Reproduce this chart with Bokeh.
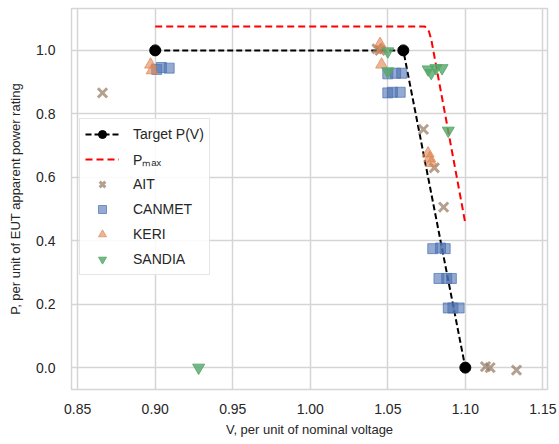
from bokeh.plotting import figure
from bokeh.models import Range1d, FixedTicker, Legend, LegendItem
from bokeh.embed import file_html
from bokeh.resources import INLINE

# Target curve and Pmax curve
target_v = [0.90, 1.06, 1.10]
target_p = [1.0, 1.0, 0.0]
pmax_v = [0.90, 1.074, 1.0765, 1.078, 1.10]
pmax_p = [1.075, 1.075, 1.06, 1.035, 0.455]

# Measured data
ait_v = [0.866, 1.043, 1.045, 1.073, 1.080, 1.086, 1.113, 1.116, 1.133]
ait_p = [0.866, 1.005, 1.000, 0.751, 0.630, 0.506, 0.003, 0.000, -0.008]

canmet_v = [0.901, 0.904, 0.909, 1.050, 1.055, 1.059, 1.050, 1.053, 1.058,
            1.079, 1.084, 1.087, 1.083, 1.088, 1.091, 1.089, 1.092, 1.096]
canmet_p = [0.940, 0.946, 0.944, 0.926, 0.928, 0.928, 0.866, 0.868, 0.868,
            0.375, 0.377, 0.375, 0.281, 0.281, 0.281, 0.188, 0.188, 0.188]

keri_v = [0.897, 0.898, 1.045, 1.046, 1.046, 1.076, 1.077, 1.078]
keri_p = [0.955, 0.937, 1.020, 1.003, 0.955, 0.675, 0.660, 0.645]

sandia_v = [0.928, 1.050, 1.050, 1.076, 1.078, 1.081, 1.085, 1.089]
sandia_p = [0.000, 0.997, 0.934, 0.940, 0.929, 0.944, 0.944, 0.747]

x_ticks = [0.85, 0.90, 0.95, 1.00, 1.05, 1.10, 1.15]
y_ticks = [0.0, 0.2, 0.4, 0.6, 0.8, 1.0]

FONT = "Liberation Sans"
TXT = "#262626"
GRID = "#d5d5d5"

p = figure(width=559, height=444, output_backend="svg", toolbar_location=None,
           x_range=Range1d(0.846, 1.153), y_range=Range1d(-0.069, 1.132),
           min_border_left=71, min_border_right=12, min_border_top=8,
           min_border_bottom=55)

p.outline_line_color = GRID
p.outline_line_width = 1.5
p.background_fill_color = "white"
p.border_fill_color = "white"

for ax in (p.xaxis[0], p.yaxis[0]):
    ax.axis_line_color = None
    ax.major_tick_line_color = None
    ax.minor_tick_line_color = None
    ax.major_label_text_font = FONT
    ax.major_label_text_font_size = "14px"
    ax.major_label_text_color = TXT
    ax.axis_label_text_font = FONT
    ax.axis_label_text_font_size = "13px"
    ax.axis_label_text_font_style = "normal"
    ax.axis_label_text_color = TXT

p.xaxis.ticker = FixedTicker(ticks=x_ticks)
p.yaxis.ticker = FixedTicker(ticks=y_ticks)
p.xaxis.major_label_overrides = {t: f"{t:.2f}" for t in x_ticks}
p.yaxis.major_label_overrides = {t: f"{t:.1f}" for t in y_ticks}
p.xaxis.axis_label = "V, per unit of nominal voltage"
p.yaxis.axis_label = "P, per unit of EUT apparent power rating"
p.xaxis.major_label_standoff = 8
p.yaxis.major_label_standoff = 10
p.xaxis.axis_label_standoff = 5
p.yaxis.axis_label_standoff = 10

p.xgrid.grid_line_color = GRID
p.ygrid.grid_line_color = GRID
p.xgrid.grid_line_width = 1.5
p.ygrid.grid_line_width = 1.5

ALPHA = 0.6
r_tl = p.line(target_v, target_p, line_color="black", line_width=2, line_dash="6 3")
r_tc = p.scatter(target_v, target_p, marker="circle", size=11, fill_color="black",
                 line_color="black")
r_pm = p.line(pmax_v, pmax_p, line_color="red", line_width=2, line_dash="7 4")

r_ait = p.scatter(ait_v, ait_p, marker="x", size=13, line_width=3,
                  line_color="#937860", line_alpha=0.7)
r_can = p.scatter(canmet_v, canmet_p, marker="square", size=10,
                  fill_color="#4c72b0", fill_alpha=ALPHA,
                  line_color="#4c72b0", line_alpha=0.7)
r_keri = p.scatter(keri_v, keri_p, marker="triangle", size=12,
                   fill_color="#dd8452", fill_alpha=ALPHA,
                   line_color="#dd8452", line_alpha=0.7)
r_san = p.scatter(sandia_v, sandia_p, marker="inverted_triangle", size=12,
                  fill_color="#55a868", fill_alpha=0.8,
                  line_color="#55a868", line_alpha=0.9)

legend = Legend(items=[
    LegendItem(label="Target P(V)", renderers=[r_tl, r_tc]),
    LegendItem(label="Pₘₐₓ", renderers=[r_pm]),
    LegendItem(label="AIT", renderers=[r_ait]),
    LegendItem(label="CANMET", renderers=[r_can]),
    LegendItem(label="KERI", renderers=[r_keri]),
    LegendItem(label="SANDIA", renderers=[r_san]),
], location=(8, 114))
legend.label_text_font = FONT
legend.label_text_font_size = "14px"
legend.label_text_color = TXT
legend.glyph_width = 34
legend.glyph_height = 20
legend.spacing = 5
legend.label_standoff = 14
legend.padding = 5
legend.margin = 0
legend.border_line_color = "#cccccc"
legend.border_line_width = 1
legend.background_fill_alpha = 0.85
p.add_layout(legend)

open("out.html", "w").write(file_html(p, INLINE))
